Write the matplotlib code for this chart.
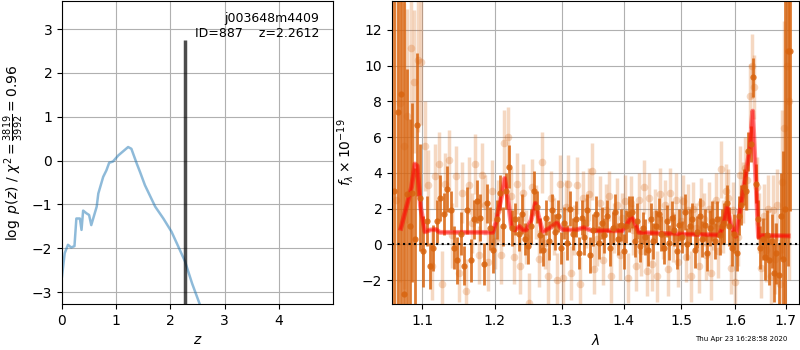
import numpy as np
import matplotlib
matplotlib.use('Agg')
import matplotlib.pyplot as plt
from matplotlib.ticker import NullLocator, FixedLocator, FixedFormatter

# ---- p(z) panel ----
z_grid = [0.0, 0.05, 0.11, 0.17, 0.23, 0.265, 0.33, 0.36, 0.39, 0.45, 0.50, 0.54,
          0.64, 0.67, 0.76, 0.82, 0.87, 0.94, 1.04, 1.22, 1.28, 1.38, 1.44, 1.53,
          1.72, 1.87, 2.02, 2.12, 2.27, 2.40, 2.54]
log_pz = [-2.64, -2.11, -1.92, -1.98, -1.95, -1.32, -1.32, -1.58, -1.14, -1.20, -1.24, -1.47,
          -1.05, -0.75, -0.37, -0.22, -0.05, -0.02, 0.12, 0.31, 0.27, -0.07, -0.26, -0.56,
          -1.05, -1.32, -1.62, -1.89, -2.30, -2.80, -3.27]
z_best = 2.2612
pz_top = 2.75
root = 'j003648m4409'
obj_id = 887
chi2 = 3819
dof = 3992

# ---- spectrum panel ----
# binned spectrum (solid)
wave_a = [1.0638, 1.0681, 1.0724, 1.0760, 1.0797, 1.0836, 1.0866, 1.0901, 1.0935, 1.0970, 1.1012,
          1.1058, 1.1104, 1.1150, 1.1196, 1.1242, 1.1288, 1.1334, 1.1380, 1.1426, 1.1472,
          1.1518, 1.1564, 1.1610, 1.1656, 1.1702, 1.1748, 1.1794, 1.1840, 1.1886, 1.1932,
          1.1978, 1.2024, 1.2070, 1.2116, 1.2162, 1.2208, 1.2254, 1.2300, 1.2346, 1.2392,
          1.2438, 1.2484, 1.2530, 1.2576, 1.2622, 1.2668, 1.2714, 1.2760, 1.2806, 1.2852,
          1.2898, 1.2944, 1.2990, 1.3036, 1.3082, 1.3128, 1.3174, 1.3220, 1.3266, 1.3312,
          1.3358, 1.3404, 1.3450, 1.3496, 1.3542, 1.3588, 1.3634, 1.3680, 1.3726, 1.3772,
          1.3818, 1.3864, 1.3910, 1.3956, 1.4002, 1.4048, 1.4094, 1.4140, 1.4186, 1.4232,
          1.4278, 1.4324, 1.4370, 1.4416, 1.4462, 1.4508, 1.4554, 1.4600, 1.4646, 1.4692,
          1.4738, 1.4784, 1.4830, 1.4876, 1.4922, 1.4968, 1.5014, 1.5060, 1.5106, 1.5152,
          1.5198, 1.5244, 1.5290, 1.5336, 1.5382, 1.5428, 1.5474, 1.5520, 1.5566, 1.5612,
          1.5658, 1.5704, 1.5750, 1.5796, 1.5842, 1.5888, 1.5934, 1.5980, 1.6026, 1.6072,
          1.6118, 1.6164, 1.6210, 1.6256, 1.6302, 1.6348, 1.6394, 1.6440, 1.6486, 1.6532,
          1.6578, 1.6624, 1.6670, 1.6716, 1.6762, 1.6808, 1.6854, 1.6900, 1.6946, 1.6992,
          1.7038, 1.7084]
flux_a = [3.0, 7.4, 8.4, -2.8, 2.8, 1.0, 2.9, 0.3, 6.7, 2.6, -0.4,
          1.3, -1.2, -0.2, 1.3, 2.6, 1.7, 3.1, 1.9, -0.2, -0.9,
          0.6, -1.2, 1.9, -0.9, 1.4, 2.4, 1.5, -1.1, 2.3, 0.9,
          -0.3, 1.4, 2.9, 1.0, 3.0, 4.35, 0.9, 1.4, 0.6, 1.7,
          0.3, -0.1, 1.0, 3.0, 2.1, 0.5, -0.3, 1.5, 0.2, 1.9,
          0.7, 1.6, -0.2, 1.2, 0.1, 2.0, 0.6, 1.4, -0.5, 1.5,
          0.4, 1.9, -0.6, 0.8, 1.7, 0.1, 1.2, 0.5, 1.6, -0.2,
          0.9, 1.8, 0.3, 1.1, -0.4, 1.0, 1.7, 1.8, 0.2, 1.3,
          -0.1, 0.9, 0.4, -0.3, 1.4, 0.2, 1.0, 1.7, 0.6, -0.2,
          1.3, 0.1, 1.5, 0.8, -0.4, 1.1, 0.4, 1.8, 0.0, 1.0,
          1.4, -0.3, 0.7, 1.6, 0.3, 1.1, -0.5, 0.9, 1.3, 0.2,
          1.4, 0.5, 1.0, 1.2, 2.3, 1.0, -0.2, 0.6, -0.5, 1.6,
          2.2, 3.2, 3.0, 5.2, 5.6, 9.35, 3.4, 1.4, -0.2, 0.3,
          -0.7, 0.5, -0.9, 0.2, -1.6, -0.5, -1.7, 1.6, -0.8, 2.0,
          10.8, 10.85]
err_a = [30, 25, 25, 20, 7, 6, 5, 4, 4, 3, 2,
         1.4, 1.3, 1.3, 1.2, 1.3, 1.2, 1.3, 1.1, 1.2, 1.3,
         1.2, 1.1, 1.3, 1.2, 1.1, 1.2, 1.3, 1.2, 1.1, 1.2,
         1.3, 1.1, 1.0, 1.1, 1.0, 1.2, 1.0, 0.9, 1.0, 1.1,
         0.9, 1.0, 1.0, 1.1, 0.9, 1.0, 0.9, 1.0, 1.1, 0.9,
         1.0, 0.9, 0.9, 0.9, 1.0, 1.0, 0.9, 1.0, 0.9, 1.0,
         1.0, 0.9, 1.0, 0.9, 1.0, 0.9, 0.9, 1.0, 0.9, 1.0,
         0.9, 1.0, 0.9, 0.9, 1.0, 0.9, 1.0, 0.9, 0.9, 1.0,
         0.9, 0.9, 1.0, 0.9, 0.9, 1.0, 0.9, 0.9, 1.0, 0.9,
         0.9, 1.0, 0.9, 0.9, 1.0, 0.9, 0.9, 1.0, 0.9, 1.0,
         0.9, 1.0, 0.9, 1.0, 1.0, 0.9, 1.0, 1.0, 1.1, 1.0,
         1.0, 1.1, 1.0, 1.1, 1.0, 1.1, 1.0, 1.1, 1.0, 1.1,
         1.1, 1.0, 1.1, 1.1, 1.0, 1.1, 1.1, 1.1, 1.2, 1.2,
         1.3, 1.4, 1.4, 1.5, 1.6, 1.7, 1.8, 2.4, 6.0, 14.0,
         12.0, 9.0]

# unbinned spectrum (faint)
wave_b = [1.0667, 1.0713, 1.0759, 1.0805, 1.0851, 1.0897, 1.0943, 1.0989, 1.1035, 1.1081,
          1.1127, 1.1173, 1.1219, 1.1265, 1.1311, 1.1357, 1.1403, 1.1449, 1.1495, 1.1541,
          1.1587, 1.1633, 1.1679, 1.1725, 1.1771, 1.1817, 1.1863, 1.1909, 1.1955, 1.2001,
          1.2047, 1.2093, 1.2139, 1.2185, 1.2231, 1.2277, 1.2323, 1.2369, 1.2415, 1.2461,
          1.2507, 1.2553, 1.2599, 1.2645, 1.2691, 1.2737, 1.2783, 1.2829, 1.2875, 1.2921,
          1.2967, 1.3013, 1.3059, 1.3105, 1.3151, 1.3197, 1.3243, 1.3289, 1.3335, 1.3381,
          1.3427, 1.3473, 1.3519, 1.3565, 1.3611, 1.3657, 1.3703, 1.3749, 1.3795, 1.3841,
          1.3887, 1.3933, 1.3979, 1.4025, 1.4071, 1.4117, 1.4163, 1.4209, 1.4255, 1.4301,
          1.4347, 1.4393, 1.4439, 1.4485, 1.4531, 1.4577, 1.4623, 1.4669, 1.4715, 1.4761,
          1.4807, 1.4853, 1.4899, 1.4945, 1.4991, 1.5037, 1.5083, 1.5129, 1.5175, 1.5221,
          1.5267, 1.5313, 1.5359, 1.5405, 1.5451, 1.5497, 1.5543, 1.5589, 1.5635, 1.5681,
          1.5727, 1.5773, 1.5819, 1.5865, 1.5911, 1.5957, 1.6003, 1.6049, 1.6095, 1.6141,
          1.6187, 1.6233, 1.6279, 1.6325, 1.6371, 1.6417, 1.6463, 1.6509, 1.6555, 1.6601,
          1.6647, 1.6693, 1.6739, 1.6785, 1.6831, 1.6877, 1.6923, 1.6969, 1.7015, 1.7061]
flux_b = [2.5, 7.9, 5.5, 7.2, 11.0, 9.1, 10.3, 10.2, 5.5, 3.3,
          -1.2, 3.8, 4.5, -2.2, 3.4, 4.7, 0.5, 3.8, -1.6, 2.9,
          -2.6, 3.3, 1.2, 4.5, -0.6, 3.9, 2.2, -1.0, 3.0, 0.2,
          1.9, -0.6, 5.7, 6.0, 2.7, -0.7, 3.4, -1.2, 2.9, 0.4,
          -3.3, 3.2, 1.8, -0.8, 4.6, 0.1, -1.8, 2.6, 1.0, -2.0,
          3.4, -1.9, 2.1, 3.4, -1.6, 0.8, 3.3, -2.2, 2.6, 1.2,
          2.8, 4.1, -1.4, 0.3, 2.3, -0.9, 1.9, 2.7, -1.8, 0.9,
          2.2, -0.6, 1.5, 2.4, -1.9, 2.3, 0.8, -1.2, 2.5, -0.4,
          3.2, -1.5, 2.6, -1.1, 1.7, -1.8, 2.8, 0.6, 2.2, -1.4,
          2.9, 0.4, 2.5, -1.0, 1.3, 2.4, -0.7, 1.9, -1.8, 2.0,
          0.9, -1.2, 2.3, 1.4, -0.6, 2.0, -1.6, 1.1, 2.5, -0.4,
          4.2, 1.0, 3.0, 2.6, -1.3, 1.9, -2.1, 0.4, 3.9, 2.9,
          4.3, 3.6, 8.3, 10.0, 8.8, 3.2, 1.2, -1.3, 1.6, -0.3,
          2.0, -1.8, 1.9, -0.8, 2.2, -2.2, 3.5, 6.5, 10.0, 8.0]
err_b = [12, 10, 8, 6, 5, 4, 4, 3.5, 2.5, 2.0,
         1.9, 1.8, 1.8, 1.8, 1.7, 1.7, 1.8, 1.7, 1.6, 1.7,
         1.8, 1.6, 1.7, 1.7, 1.6, 1.8, 1.7, 1.6, 1.7, 1.6,
         1.7, 1.6, 1.8, 1.7, 1.6, 1.5, 1.7, 1.6, 1.6, 1.5,
         1.7, 1.6, 1.5, 1.6, 1.7, 1.5, 1.6, 1.5, 1.6, 1.5,
         1.6, 1.5, 1.5, 1.6, 1.5, 1.4, 1.6, 1.5, 1.5, 1.4,
         1.5, 1.6, 1.4, 1.5, 1.5, 1.4, 1.5, 1.4, 1.5, 1.4,
         1.5, 1.4, 1.4, 1.5, 1.4, 1.5, 1.4, 1.4, 1.5, 1.4,
         1.5, 1.4, 1.4, 1.5, 1.4, 1.4, 1.5, 1.4, 1.4, 1.5,
         1.4, 1.4, 1.5, 1.4, 1.4, 1.5, 1.4, 1.5, 1.4, 1.5,
         1.4, 1.5, 1.4, 1.5, 1.4, 1.5, 1.5, 1.4, 1.5, 1.5,
         1.6, 1.5, 1.5, 1.6, 1.5, 1.6, 1.5, 1.6, 1.6, 1.7,
         1.7, 1.7, 1.8, 1.8, 1.8, 1.7, 1.7, 1.7, 1.8, 1.8,
         1.9, 1.9, 2.0, 2.0, 2.0, 2.5, 4.0, 6.0, 8.0, 10.0]

# best-fit model
model_wave = [1.0723, 1.0861, 1.0904, 1.0934, 1.0979, 1.1036, 1.1102, 1.1182, 1.1235, 1.1971,
              1.2019, 1.2108, 1.2141, 1.2190, 1.2239, 1.2287, 1.2360, 1.2408, 1.2458, 1.2532,
              1.2596, 1.2646, 1.2706, 1.2807, 1.2924, 1.3010, 1.3218, 1.3349, 1.3482, 1.3973,
              1.4046, 1.4124, 1.4169, 1.4254, 1.4661, 1.5701, 1.5784, 1.5848, 1.5912, 1.6010,
              1.6153, 1.6285, 1.6338, 1.6453, 1.6518, 1.7049]
model_flux = [0.9, 3.2, 4.5, 4.4, 2.1, 0.7, 0.8, 0.83, 0.67, 0.67,
              1.26, 2.9, 3.7, 2.5, 1.0, 0.8, 1.0, 0.8, 0.8, 1.35,
              2.3, 1.54, 0.7, 0.9, 1.2, 0.83, 0.8, 0.94, 0.76, 0.76,
              1.07, 1.52, 1.35, 0.67, 0.61, 0.52, 1.17, 2.1, 1.17, 0.45,
              3.0, 5.4, 7.46, 0.4, 0.5, 0.47]

wave_ticks = [1.1, 1.2, 1.3, 1.4, 1.5, 1.6, 1.7]
timestamp = 'Thu Apr 23 16:28:58 2020'

spec_color = '#d8640f'

fig = plt.figure(figsize=(8, 3.5), dpi=100)
ax1 = fig.add_axes([0.0775, 0.1314, 0.33875, 0.8657])
ax2 = fig.add_axes([0.49, 0.1314, 0.50875, 0.8657])

# left: log p(z)
ax1.plot(z_grid, log_pz, color='tab:blue', alpha=0.5, lw=1.8)
ax1.vlines(z_best, -10, pz_top, color='k', alpha=0.7, lw=2.5)
ax1.set_xlim(0, 5.0)
ax1.set_ylim(-3.27, 3.64)
ax1.set_xticks([0, 1, 2, 3, 4])
ax1.grid()
ax1.set_xlabel(r'$z$')
ax1.set_ylabel(r'$\log\ p(z)$' + ' / ' +
               r'$\chi^2=\frac{{{0:d}}}{{{1:d}}}={2:.2f}$'.format(chi2, dof, chi2 / dof))
ax1.text(0.95, 0.965, '{0}\nID={1:<5d}  z={2:.4f}'.format(root, obj_id, z_best),
         ha='right', va='top', transform=ax1.transAxes, fontsize=9)

# right: spectrum
ax2.errorbar(wave_b, flux_b, yerr=err_b, marker='o', ls='none', color=spec_color,
             alpha=0.25, ms=5.5, elinewidth=2.5, mew=0)
ax2.errorbar(wave_a, flux_a, yerr=err_a, marker='o', ls='none', color=spec_color,
             alpha=0.85, ms=4.5, elinewidth=2, mew=0)
ax2.plot(model_wave, model_flux, color='r', alpha=0.45, lw=3.5)
ax2.plot(model_wave, model_flux, color='r', alpha=0.45, lw=1.8)
ax2.axhline(0, color='k', ls=':', lw=1.5)

ax2.set_xscale('log')
ax2.set_xlim(1.061, 1.727)
ax2.set_ylim(-3.34, 13.62)
ax2.xaxis.set_major_locator(FixedLocator(wave_ticks))
ax2.xaxis.set_major_formatter(FixedFormatter(['{0:.1f}'.format(w) for w in wave_ticks]))
ax2.xaxis.set_minor_locator(NullLocator())
ax2.grid()
ax2.set_xlabel(r'$\lambda$')
ax2.set_ylabel(r'$f_\lambda\times 10^{-19}$')

fig.text(787 / 800, 1 - 339 / 350, timestamp, ha='right', va='center', fontsize=5)

fig.savefig('out.png', dpi=100)
